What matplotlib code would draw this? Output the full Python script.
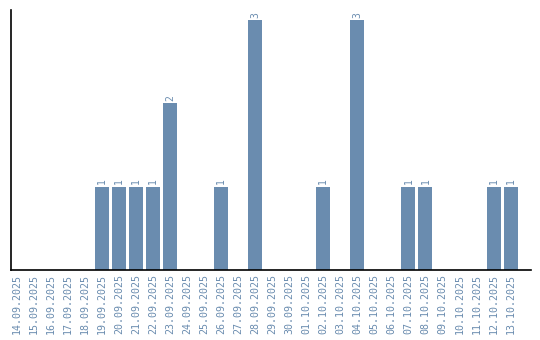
import matplotlib
matplotlib.use("Agg")
import matplotlib.pyplot as plt

dates = ["14.09.2025","15.09.2025","16.09.2025","17.09.2025","18.09.2025","19.09.2025",
         "20.09.2025","21.09.2025","22.09.2025","23.09.2025","24.09.2025","25.09.2025",
         "26.09.2025","27.09.2025","28.09.2025","29.09.2025","30.09.2025","01.10.2025",
         "02.10.2025","03.10.2025","04.10.2025","05.10.2025","06.10.2025","07.10.2025",
         "08.10.2025","09.10.2025","10.10.2025","11.10.2025","12.10.2025","13.10.2025"]
counts = [0,0,0,0,0,1,
          1,1,1,2,0,0,
          1,0,3,0,0,0,
          1,0,3,0,0,1,
          1,0,0,0,1,1]

bar_color = "#6a8caf"
text_color = "#6a8caf"

fig = plt.figure(figsize=(5.4, 3.4), dpi=100)
ax = fig.add_axes([11/540, 70/340, 520/540, 260/340])
x = list(range(len(dates)))
bars = ax.bar(x, counts, width=0.82, color=bar_color)
for xi, c in zip(x, counts):
    if c > 0:
        ax.text(xi, c + 0.03, str(c), rotation=90, ha="center", va="bottom",
                fontsize=7, family="DejaVu Sans Mono", color=text_color)
ax.set_xlim(-0.35, len(dates) - 1 + 1.2)
ax.set_ylim(0, 3.12)
ax.set_xticks(x)
ax.set_xticklabels(dates, rotation=90, fontsize=7.2, family="DejaVu Sans Mono", color=text_color)
ax.tick_params(axis="x", length=0, pad=3)
ax.set_yticks([])
for s in ["top", "right"]:
    ax.spines[s].set_visible(False)
ax.spines["left"].set_linewidth(1.2)
ax.spines["bottom"].set_linewidth(1.2)
fig.savefig("out.png", dpi=100)
